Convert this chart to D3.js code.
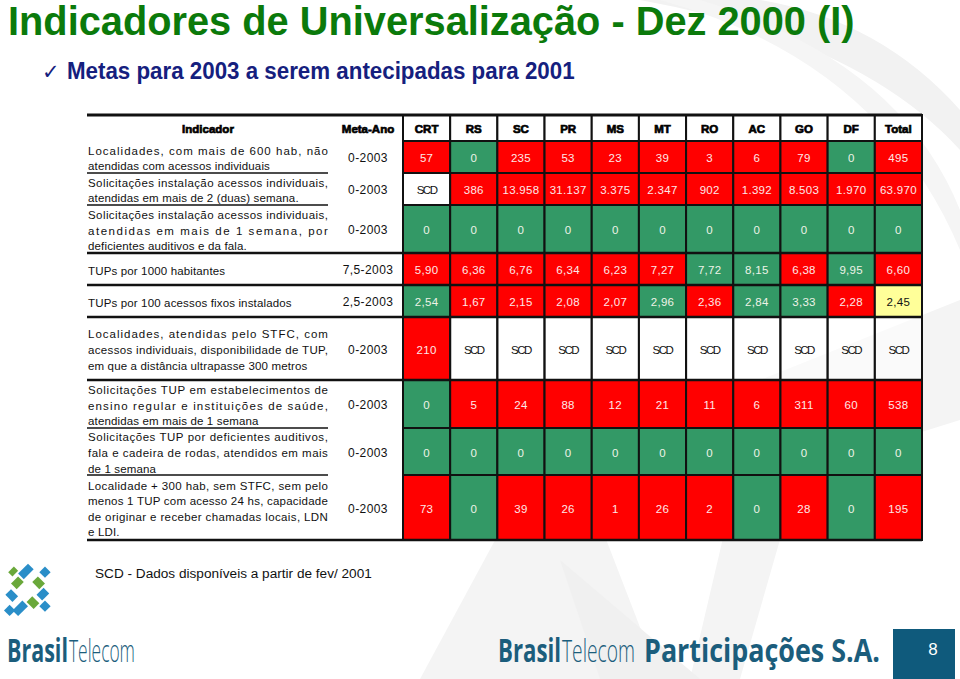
<!DOCTYPE html>
<html>
<head>
<meta charset="utf-8">
<script src="https://cdn.jsdelivr.net/npm/d3@7"></script>
<style>
  body { margin: 0; background: #fff; }
  svg { display: block; }
</style>
</head>
<body>
<div id="canvas"></div>
<script>
// dados da tabela
const estados = ["CRT", "RS", "SC", "PR", "MS", "MT", "RO", "AC", "GO", "DF", "Total"];

const metas = ["0-2003", "0-2003", "0-2003", "7,5-2003", "2,5-2003", "0-2003", "0-2003", "0-2003", "0-2003"];

const indicadores = [
  ["Localidades, com mais de 600 hab, não", "atendidas com acessos individuais"],
  ["Solicitações instalação acessos individuais,", "atendidas em mais de 2 (duas) semana."],
  ["Solicitações instalação acessos individuais,", "atendidas em mais de 1 semana, por", "deficientes auditivos e da fala."],
  ["TUPs por 1000 habitantes"],
  ["TUPs por 100 acessos fixos instalados"],
  ["Localidades, atendidas pelo STFC, com", "acessos individuais, disponibilidade de TUP,", "em que a distância ultrapasse 300 metros"],
  ["Solicitações TUP em estabelecimentos de", "ensino regular e instituições de saúde,", "atendidas em mais de 1 semana"],
  ["Solicitações TUP por deficientes auditivos,", "fala e cadeira de rodas, atendidos em mais", "de 1 semana"],
  ["Localidade + 300 hab, sem STFC, sem pelo", "menos 1 TUP com acesso 24 hs, capacidade", "de originar e receber chamadas locais, LDN", "e LDI."]
];

// linhas justificadas (todas menos a ultima)
const justificado = [true, true, true, false, false, true, true, true, true];

const valores = [
  ["57", "0", "235", "53", "23", "39", "3", "6", "79", "0", "495"],
  ["SCD", "386", "13.958", "31.137", "3.375", "2.347", "902", "1.392", "8.503", "1.970", "63.970"],
  ["0", "0", "0", "0", "0", "0", "0", "0", "0", "0", "0"],
  ["5,90", "6,36", "6,76", "6,34", "6,23", "7,27", "7,72", "8,15", "6,38", "9,95", "6,60"],
  ["2,54", "1,67", "2,15", "2,08", "2,07", "2,96", "2,36", "2,84", "3,33", "2,28", "2,45"],
  ["210", "SCD", "SCD", "SCD", "SCD", "SCD", "SCD", "SCD", "SCD", "SCD", "SCD"],
  ["0", "5", "24", "88", "12", "21", "11", "6", "311", "60", "538"],
  ["0", "0", "0", "0", "0", "0", "0", "0", "0", "0", "0"],
  ["73", "0", "39", "26", "1", "26", "2", "0", "28", "0", "195"]
];

// r = fora da meta, g = dentro da meta, y = atencao, w = sem dados
const situacao = [
  "rgrrrrrrrgr",
  "wrrrrrrrrrr",
  "ggggggggggg",
  "rrrrrrggrgr",
  "grrrrgrggry",
  "rwwwwwwwwww",
  "grrrrrrrrrr",
  "ggggggggggg",
  "rgrrrrrgrgr"
];

// layout
const width = 960, height = 679;
const alturas = [32, 32, 48, 32, 32, 63, 48, 47, 65];
const topo = 115, topoCab = 141;
const xTexto = 88, wTexto = 240, xMeta = 368;

const fill = { r: "#ff0000", g: "#339966", y: "#ffff99", w: "#ffffff" };
const corTexto = { r: "#fde8e8", g: "#eef3e6", y: "#111", w: "#111" };

const svg = d3.select("#canvas").append("svg")
  .attr("width", width).attr("height", height);

// marca d'agua de fundo
const wm = svg.append("g").attr("fill", "#f2f2f2");
wm.append("path").attr("d", "M640,0 Q860,40 960,150 L960,110 Q880,20 760,0 Z");
wm.append("path").attr("d", "M700,0 Q900,60 960,210 L960,250 Q880,60 660,0 Z").attr("fill", "#f5f5f5");
wm.append("path").attr("d", "M420,679 L560,420 L660,679 Z").attr("fill", "#f4f4f4");
wm.append("path").attr("d", "M690,679 L760,380 L960,300 L960,420 L800,470 L740,679 Z").attr("fill", "#f4f4f4");
wm.append("path").attr("d", "M560,560 L700,679 L600,679 Z").attr("fill", "#f0f0f0");

// texto estreitado por escala horizontal ate a largura pedida
const estreito = (sel, xx, yy, largura) => {
  const nat = sel.node().getComputedTextLength();
  sel.attr("transform", `translate(${xx},${yy}) scale(${largura / nat},1)`);
  return sel;
};

// titulo
estreito(svg.append("text")
  .style("font-family", "'Liberation Sans', sans-serif")
  .style("font-weight", "bold").style("font-size", "40px")
  .attr("fill", "#0b7a0b")
  .text("Indicadores de Universalização - Dez 2000 (I)"), 8, 35, 847);

svg.append("text")
  .attr("x", 42).attr("y", 79)
  .style("font-family", "'DejaVu Sans', sans-serif")
  .style("font-size", "21px").attr("fill", "#15207e")
  .text("✓");
estreito(svg.append("text")
  .style("font-family", "'Liberation Sans', sans-serif")
  .style("font-weight", "bold").style("font-size", "23px")
  .attr("fill", "#15207e")
  .text("Metas para 2003 a serem antecipadas para 2001"), 67, 79, 508);

// escalas
const x = d3.scaleBand().domain(estados).range([403, 922]);
const linhas = d3.range(indicadores.length);
const yTop = linhas.map(i => topoCab + d3.sum(alturas.slice(0, i)));
const y = d3.scaleOrdinal().domain(linhas).range(yTop);

const g = svg.append("g");
const fonte = "'Liberation Sans', Arial, sans-serif";

// cabecalho
g.selectAll("rect.cab").data(estados).enter().append("rect")
  .attr("class", "cab")
  .attr("x", d => x(d)).attr("y", topo)
  .attr("width", x.bandwidth()).attr("height", topoCab - topo)
  .attr("fill", "#fff").attr("stroke", "#111").attr("stroke-width", 2);

g.selectAll("text.cab").data(estados).enter().append("text")
  .attr("class", "cab")
  .attr("x", d => x(d) + x.bandwidth() / 2).attr("y", topo + 18)
  .attr("text-anchor", "middle")
  .style("font-family", fonte).style("font-weight", "bold").style("font-size", "11.5px")
  .attr("stroke", "#000").attr("stroke-width", 0.7)
  .text(d => d);

[["Indicador", 208], ["Meta-Ano", xMeta]].forEach(([t, cx]) => {
  g.append("text").attr("x", cx).attr("y", topo + 18).attr("text-anchor", "middle")
    .style("font-family", fonte).style("font-weight", "bold").style("font-size", "11.5px")
    .attr("stroke", "#000").attr("stroke-width", 0.7)
    .text(t);
});

// celulas
const celulas = [];
linhas.forEach(i => estados.forEach((s, j) => {
  celulas.push({ i, s, v: valores[i][j], c: situacao[i][j] });
}));

g.selectAll("rect.cel").data(celulas).enter().append("rect")
  .attr("class", "cel")
  .attr("x", d => x(d.s)).attr("y", d => y(d.i))
  .attr("width", x.bandwidth()).attr("height", d => alturas[d.i])
  .attr("fill", d => fill[d.c]).attr("fill-opacity", d => d.c === "w" ? 0.55 : 1)
  .attr("stroke", "#111").attr("stroke-width", 2);

g.selectAll("text.cel").data(celulas).enter().append("text")
  .attr("class", "cel")
  .attr("x", d => x(d.s) + x.bandwidth() / 2)
  .attr("y", d => y(d.i) + alturas[d.i] / 2 + 5)
  .attr("text-anchor", "middle")
  .style("font-family", fonte).style("font-size", "11.5px")
  .style("letter-spacing", d => d.v === "SCD" ? "-1.5px" : "0.3px")
  .attr("fill", d => corTexto[d.c])
  .text(d => d.v);

// meta-ano
g.selectAll("text.meta").data(metas).enter().append("text")
  .attr("class", "meta")
  .attr("x", xMeta).attr("y", (d, i) => y(i) + alturas[i] / 2 + 5)
  .attr("text-anchor", "middle")
  .style("font-family", fonte).style("font-size", "12px").style("letter-spacing", "0.4px")
  .attr("fill", "#111")
  .text(d => d);

// textos dos indicadores
const lh = 15.6;
indicadores.forEach((ls, i) => {
  const n = ls.length;
  const base0 = y(i) + alturas[i] / 2 + 1 - (n - 1) * lh / 2 + 4.5;
  ls.forEach((t, k) => {
    const txt = g.append("text")
      .attr("x", xTexto).attr("y", base0 + k * lh)
      .style("font-family", fonte).style("font-size", "11.5px").style("letter-spacing", "0.15px")
      .attr("fill", "#111")
      .text(t);
    if (justificado[i] && k < n - 1) txt.attr("textLength", wTexto).attr("lengthAdjust", "spacing");
  });
});

// linhas horizontais
const fundos = linhas.map(i => y(i) + alturas[i]);
const cheias = [2, 3, 4, 5, 8];
g.append("line").attr("x1", 87).attr("x2", 922).attr("y1", topo).attr("y2", topo)
  .attr("stroke", "#111").attr("stroke-width", 3);
linhas.forEach(i => {
  const full = cheias.includes(i);
  g.append("line")
    .attr("x1", 87).attr("x2", full ? 922 : 328)
    .attr("y1", fundos[i]).attr("y2", fundos[i])
    .attr("stroke", "#111").attr("stroke-width", full ? 2.5 : 1.5);
});

// rodape
estreito(svg.append("text")
  .style("font-family", "'Liberation Sans', sans-serif").style("font-size", "13.5px")
  .attr("fill", "#111")
  .text("SCD - Dados disponíveis a partir de fev/ 2001"), 95, 578, 277);

// logotipo
const logo = svg.append("g").attr("transform", "translate(28,592) rotate(45)");
const blocos = [
  [-6, -30, 8, 8, "#2a8ec8"], [-20, -20, 8, 14, "#2a8ec8"], [-4, -18, 10, 8, "#6aa83a"],
  [8, -14, 8, 10, "#2a8ec8"], [-18, -4, 8, 10, "#6aa83a"], [-6, -4, 10, 10, "#fff"],
  [6, 0, 10, 8, "#6aa83a"], [-14, 10, 10, 8, "#2a8ec8"], [2, 10, 8, 14, "#2a8ec8"],
  [18, -6, 8, 8, "#2a8ec8"], [-28, -8, 6, 8, "#6aa83a"], [-4, 22, 8, 8, "#2a8ec8"]
];
logo.selectAll("rect").data(blocos).enter().append("rect")
  .attr("x", d => d[0]).attr("y", d => d[1]).attr("width", d => d[2]).attr("height", d => d[3])
  .attr("fill", d => d[4]);

// marcas Brasil Telecom (cada parte em seu proprio texto)
const pedacos = [
  ["Brasil", "bold", 7, 61], ["Telecom", "300", 69, 66],
  ["Brasil", "bold", 498, 63], ["Telecom", "300", 562, 73], ["Participações S.A.", "bold", 644, 236]
];
pedacos.forEach(d => {
  estreito(svg.append("text")
    .style("font-family", "'Open Sans', 'Noto Sans', sans-serif").style("font-size", "32px")
    .style("font-weight", d[1])
    .attr("fill", "#1b5d7c")
    .text(d[0]), d[2], 662, d[3]);
});

svg.append("rect").attr("x", 893).attr("y", 629).attr("width", 62).attr("height", 50).attr("fill", "#0f5a7c");
svg.append("text").attr("x", 933).attr("y", 655).attr("text-anchor", "middle")
  .style("font-family", fonte).style("font-size", "17px").attr("fill", "#fff").text("8");
</script>
</body>
</html>
